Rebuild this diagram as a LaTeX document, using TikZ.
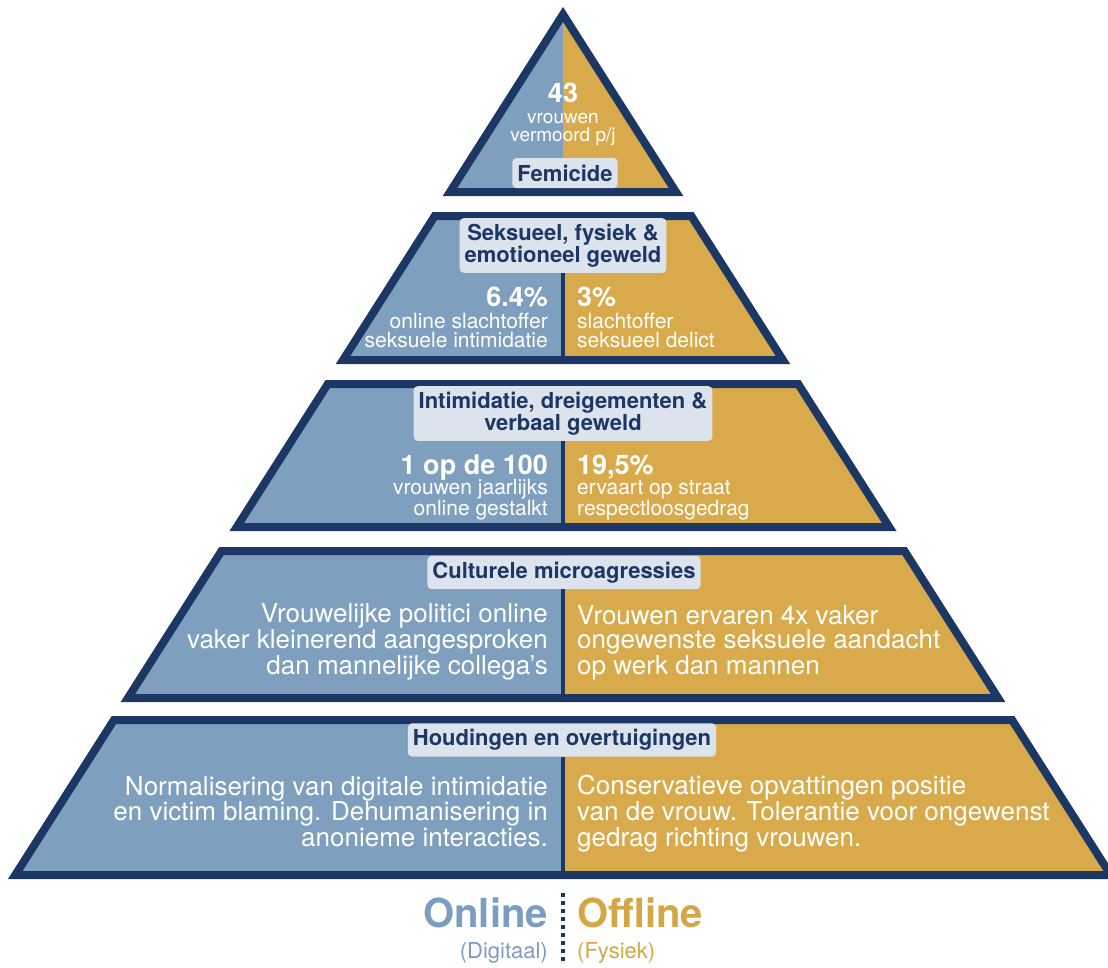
\documentclass[tikz,border=0pt]{standalone}
\usepackage{fontspec}
\setmainfont{TeX Gyre Heros}
\usepackage{xcolor}
\usetikzlibrary{positioning}

\definecolor{navy}{HTML}{1C3763}
\definecolor{online}{HTML}{7F9FBF}
\definecolor{offline}{HTML}{D9AA4B}
\definecolor{kopvak}{HTML}{DCE3ED}
\definecolor{onlinetekst}{HTML}{7B9DC2}
\definecolor{offlinetekst}{HTML}{D6A646}

\begin{document}
\begin{tikzpicture}[
  x=1pt, y=-1pt,
  rand/.style={draw=navy, line width=8pt},
  scheiding/.style={draw=navy, line width=3.5pt},
  kop/.style={
    fill=kopvak, text=navy, rounded corners=4pt,
    align=center, inner xsep=5pt, inner ysep=6pt,
    font=\bfseries\fontsize{22}{21.5}\selectfont
  },
  getal/.style={text=white, inner sep=0pt, font=\bfseries\fontsize{27}{27}\selectfont},
  klein/.style={text=white, inner sep=0pt, font=\fontsize{21}{18.5}\selectfont},
  groot/.style={text=white, inner sep=0pt, font=\fontsize{26}{23.5}\selectfont},
  legenda/.style={inner sep=0pt, font=\bfseries\fontsize{40}{40}\selectfont},
  sublegenda/.style={inner sep=0pt, font=\fontsize{22}{22}\selectfont}
]
\useasboundingbox (0,0) rectangle (1108,967);

% top van de piramide
\fill[online] (563,14.45) -- (450,192) -- (563,192) -- cycle;
\fill[offline] (563,14.45) -- (676,192) -- (563,192) -- cycle;
\draw[rand] (563,14.45) -- (676,192) -- (450,192) -- cycle;

\foreach \boven/\onder [count=\i from 2] in {216/360, 384/527, 551/698, 720/875} {
  \pgfmathsetmacro\wb{0.6365*(\boven-14.45)}
  \pgfmathsetmacro\wo{0.6365*(\onder-14.45)}
  \fill[online] (563,\boven) -- ({563-\wb},\boven) -- ({563-\wo},\onder) -- (563,\onder) -- cycle;
  \fill[offline] (563,\boven) -- ({563+\wb},\boven) -- ({563+\wo},\onder) -- (563,\onder) -- cycle;
  \draw[rand] ({563-\wb},\boven) -- ({563+\wb},\boven) -- ({563+\wo},\onder) -- ({563-\wo},\onder) -- cycle;
  \coordinate (bodem\i) at (563,\onder);
}

% laag 1 (base = laatste regel)
\node[getal, anchor=base] (n43) at (563,102) {43};
\node[klein, font=\fontsize{19}{17.5}\selectfont, align=center, anchor=base] (vermoord) at (563,141) {vrouwen\\vermoord p/j};
\node[kop, minimum height=30pt] (femicide) at (565,173) {Femicide};

% laag 2
\node[kop] (geweld) at (563,245.5) {Seksueel, fysiek \&\\emotioneel geweld};
\node[getal, anchor=base east] (pct64) at (548,306) {6.4\%};
\node[klein, align=right, anchor=base east] (slachtoffer64) at (548,347) {online slachtoffer\\seksuele intimidatie};
\node[getal, anchor=base west] (pct3) at (577,306) {3\%};
\node[klein, align=left, anchor=base west] (slachtoffer3) at (577,347) {slachtoffer\\seksueel delict};
\draw[scheiding] (geweld.south -| bodem2) -- (bodem2);

% laag 3
\node[kop] (intimidatie) at (563,413.5) {Intimidatie, dreigementen \&\\verbaal geweld};
\node[getal, anchor=base east] (eenop100) at (548,474) {1 op de 100};
\node[klein, align=right, anchor=base east] (gestalkt) at (548,515) {vrouwen jaarlijks\\online gestalkt};
\node[getal, anchor=base west] (pct195) at (577,474) {19,5\%};
\node[klein, align=left, anchor=base west] (straat) at (577,515) {ervaart op straat\\respectloosgedrag};
\draw[scheiding] (intimidatie.south -| bodem3) -- (bodem3);

% laag 4
\node[kop, minimum height=31pt] (cultureel) at (564,572.5) {Culturele microagressies};
\node[groot, align=right, anchor=base east] (politici) at (548,674) {Vrouwelijke politici online\\vaker kleinerend aangesproken\\dan mannelijke collega's};
\node[groot, align=left, anchor=base west] (aandacht) at (577,674) {Vrouwen ervaren 4x vaker\\ongewenste seksuele aandacht\\op werk dan mannen};
\draw[scheiding] (cultureel.south -| bodem4) -- (bodem4);

% laag 5
\node[kop, minimum height=31pt] (houding) at (562,740) {Houdingen en overtuigingen};
\node[groot, align=right, anchor=base east] (digitaal) at (548,846) {Normalisering van digitale intimidatie\\en victim blaming. Dehumanisering in\\anonieme interacties.};
\node[groot, align=left, anchor=base west] (fysiek) at (577,846) {Conservatieve opvattingen positie\\van de vrouw. Tolerantie voor ongewenst\\gedrag richting vrouwen.};
\draw[scheiding] (houding.south -| bodem5) -- (bodem5);

% legenda
\node[legenda, text=onlinetekst, anchor=base east] (online) at (548,927) {Online};
\node[sublegenda, text=onlinetekst, anchor=base east] (digitaalleg) at (548,958) {(Digitaal)};
\node[legenda, text=offlinetekst, anchor=base west] (offline) at (577,927) {Offline};
\node[sublegenda, text=offlinetekst, anchor=base west] (fysiekleg) at (577,958) {(Fysiek)};
\coordinate (legboven) at (563,893);
\coordinate (legonder) at (563,964);
\draw[navy, line width=3.5pt, dash pattern=on 3.5pt off 4.5pt] (legboven) -- (legonder);
\end{tikzpicture}
\end{document}
